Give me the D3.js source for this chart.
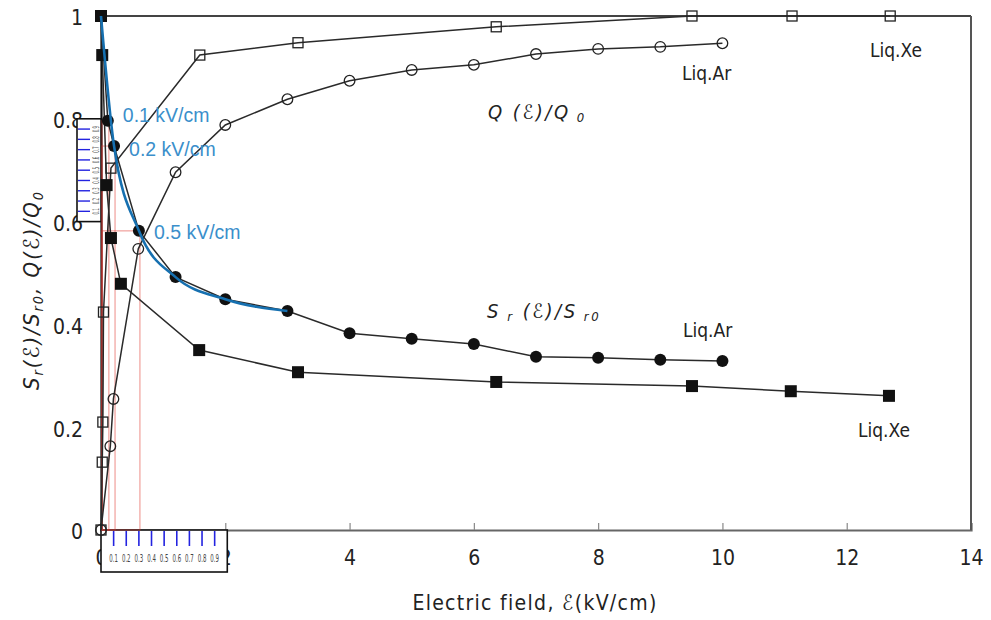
<!DOCTYPE html>
<html><head><meta charset="utf-8">
<script src="https://cdn.jsdelivr.net/npm/d3@7"></script>
<style>
body{margin:0;background:#fff;}
svg{display:block;}
</style></head>
<body>
<svg id="c" width="991" height="620"></svg>
<script>
// ---- data ----
const xTicks = [0, 2, 4, 6, 8, 10, 12, 14];
const yTicks = [0, 0.2, 0.4, 0.6, 0.8, 1];
const yTickLabels = ["0", "0.2", "0.4", "0.6", "0.8", "1"];
const insetTicks = [0.1, 0.2, 0.3, 0.4, 0.5, 0.6, 0.7, 0.8, 0.9];
const insetLabels = ["0.1", "0.2", "0.3", "0.4", "0.5", "0.6", "0.7", "0.8", "0.9"];

// Liq.Xe scintillation S_r/S_r0 (filled squares)
const xeSrX = [0, 0.02, 0.09, 0.16, 0.32, 1.58, 3.17, 6.36, 9.51, 11.1, 12.68];
const xeSrY = [1.0, 0.924, 0.671, 0.568, 0.479, 0.350, 0.307, 0.288, 0.280, 0.270, 0.261];
// Liq.Ar scintillation S_r/S_r0 (filled circles)
const arSrX = [0, 0.11, 0.21, 0.61, 1.2, 2, 3, 4, 5, 6, 7, 8, 9, 10];
const arSrY = [1.0, 0.796, 0.747, 0.582, 0.492, 0.449, 0.426, 0.383, 0.372, 0.362, 0.337, 0.335, 0.331, 0.329];
// Liq.Xe charge Q/Q0 (open squares)
const xeQX = [0, 0.02, 0.03, 0.04, 0.16, 1.59, 3.17, 6.36, 9.51, 11.12, 12.7];
const xeQY = [0, 0.132, 0.21, 0.424, 0.704, 0.924, 0.948, 0.979, 1.0, 1.0, 1.0];
// Liq.Ar charge Q/Q0 (open circles)
const arQX = [0, 0.15, 0.2, 0.6, 1.2, 2, 3, 4, 5, 6, 7, 8, 9, 10];
const arQY = [0, 0.163, 0.255, 0.547, 0.696, 0.788, 0.838, 0.874, 0.895, 0.905, 0.926, 0.936, 0.940, 0.947];
// blue highlight curve
const blueX = [0, 0.21, 0.61, 1.2, 2, 3];
const blueY = [1.0, 0.747, 0.582, 0.492, 0.449, 0.426];
// annotated field points
const annX = [0.11, 0.21, 0.61];
const annY = [0.796, 0.747, 0.582];
const annText = ["0.1 kV/cm", "0.2 kV/cm", "0.5 kV/cm"];

// ---- drawing ----
const svg = d3.select("#c");
const x = d3.scaleLinear().domain([0, 14]).range([101, 971]);
const y = d3.scaleLinear().domain([0, 1]).range([530, 16]);
const narrow = "'Liberation Sans Narrow','DejaVu Sans Condensed','Liberation Sans',sans-serif";
const zip = (a, b) => a.map((v, i) => [v, b[i]]);

// axes
const xAxis = svg.append("g").attr("transform", `translate(0,${y(0)})`)
  .call(d3.axisBottom(x).tickValues(xTicks).tickSize(-7).tickPadding(20).tickFormat(d3.format("d")));
xAxis.select(".domain").attr("stroke", "#666").attr("stroke-width", 2.2);
xAxis.selectAll(".tick line").attr("stroke", "#888").attr("stroke-width", 1.2);
xAxis.selectAll(".tick text").attr("font-family", narrow).attr("font-size", 21).attr("fill", "#222");

const yAxis = svg.append("g").attr("transform", `translate(${x(0)},0)`)
  .call(d3.axisLeft(y).tickValues(yTicks).tickSize(0).tickPadding(18).tickFormat((d, i) => yTickLabels[i]));
yAxis.select(".domain").attr("stroke", "#111").attr("stroke-width", 2.2);
yAxis.selectAll(".tick text").attr("font-family", narrow).attr("font-size", 21).attr("fill", "#222").attr("dy", "0.42em");

// frame top / right
svg.append("line").attr("x1", x(0)).attr("x2", x(14)).attr("y1", y(1)).attr("y2", y(1))
  .attr("stroke", "#444").attr("stroke-width", 2.2);
svg.append("line").attr("x1", x(14)).attr("x2", x(14)).attr("y1", y(1)).attr("y2", y(0))
  .attr("stroke", "#555").attr("stroke-width", 2);

// bottom inset (0..1 kV/cm magnified over 0..2)
const xIn = d3.scaleLinear().domain([0, 1]).range([x(0), x(2) + 2]);
const gB = svg.append("g");
gB.append("rect").attr("x", xIn(0)).attr("y", y(0)).attr("width", xIn(1) - xIn(0)).attr("height", 42)
  .attr("fill", "#fff").attr("stroke", "#111").attr("stroke-width", 1.6);
gB.selectAll("line.t").data(insetTicks).join("line")
  .attr("x1", d => xIn(d)).attr("x2", d => xIn(d)).attr("y1", y(0) + 1).attr("y2", y(0) + 16)
  .attr("stroke", "#2323e0").attr("stroke-width", 1.6);
gB.selectAll("text").data(insetTicks).join("text")
  .attr("transform", d => `translate(${xIn(d)},${y(0) + 32}) scale(0.55,1)`).attr("text-anchor", "middle")
  .attr("font-family", narrow).attr("font-size", 11).attr("fill", "#444")
  .text((d, i) => insetLabels[i]);

// left inset (0.6..0.8 magnified)
const yIn = d3.scaleLinear().domain([0, 1]).range([y(0.6), y(0.8)]);
const gL = svg.append("g");
gL.append("rect").attr("x", 77).attr("y", yIn(1)).attr("width", x(0) - 77).attr("height", yIn(0) - yIn(1))
  .attr("fill", "#fff").attr("stroke", "#111").attr("stroke-width", 1.6);
gL.selectAll("line.t").data(insetTicks).join("line")
  .attr("x1", 78).attr("x2", 90).attr("y1", d => yIn(d)).attr("y2", d => yIn(d))
  .attr("stroke", "#2323e0").attr("stroke-width", 1.4);
gL.selectAll("text").data(insetTicks).join("text")
  .attr("transform", d => `translate(${96},${yIn(d)}) rotate(-90) scale(0.5,1)`).attr("text-anchor", "middle")
  .attr("dy", "0.35em").attr("font-family", narrow).attr("font-size", 9).attr("fill", "#555")
  .text((d, i) => insetLabels[i]);

// red projection rectangles
svg.selectAll("rect.red").data(annX).join("rect").attr("class", "red")
  .attr("x", x(0) + 1).attr("y", (d, i) => y(annY[i])).attr("width", d => x(d) - x(0))
  .attr("height", (d, i) => y(0) - y(annY[i]))
  .attr("fill", "none").attr("stroke", "rgba(225,60,50,0.45)").attr("stroke-width", 1.3);

// series lines
const line = d3.line().x(d => x(d[0])).y(d => y(d[1]));
const series = [
  { pts: zip(xeSrX, xeSrY), mark: "fsq" },
  { pts: zip(arSrX, arSrY), mark: "fci" },
  { pts: zip(xeQX, xeQY), mark: "osq" },
  { pts: zip(arQX, arQY), mark: "oci" }
];
series.forEach(s => {
  svg.append("path").attr("d", line(s.pts)).attr("fill", "none")
    .attr("stroke", "#2a2a2a").attr("stroke-width", 1.5);
});
series.forEach(s => {
  const g = svg.append("g");
  if (s.mark === "fsq") {
    g.selectAll("rect").data(s.pts).join("rect")
      .attr("x", d => x(d[0]) - 6).attr("y", d => y(d[1]) - 6).attr("width", 12).attr("height", 12)
      .attr("fill", "#111");
  } else if (s.mark === "osq") {
    g.selectAll("rect").data(s.pts).join("rect")
      .attr("x", d => x(d[0]) - 5).attr("y", d => y(d[1]) - 5).attr("width", 10).attr("height", 10)
      .attr("fill", "#fff").attr("fill-opacity", 0).attr("stroke", "#222").attr("stroke-width", 1.3);
  } else if (s.mark === "fci") {
    g.selectAll("circle").data(s.pts).join("circle")
      .attr("cx", d => x(d[0])).attr("cy", d => y(d[1])).attr("r", 6).attr("fill", "#111");
  } else {
    g.selectAll("circle").data(s.pts).join("circle")
      .attr("cx", d => x(d[0])).attr("cy", d => y(d[1])).attr("r", 5.3)
      .attr("fill", "none").attr("stroke", "#222").attr("stroke-width", 1.3);
  }
});

// blue curve
svg.append("path").attr("d", d3.line().x(d => x(d[0])).y(d => y(d[1])).curve(d3.curveMonotoneX)(zip(blueX, blueY)))
  .attr("fill", "none").attr("stroke", "#1670b0").attr("stroke-width", 2.6);

// annotation texts
const annDy = [-6, 3, 1];
svg.selectAll("text.ann").data(annX).join("text").attr("class", "ann")
  .attr("x", d => x(d) + 15).attr("y", (d, i) => y(annY[i]) + annDy[i])
  .attr("dy", "0.36em").attr("font-family", "'Liberation Sans',Arial,sans-serif")
  .attr("font-size", 19.5).attr("fill", "#3b8fcb").text((d, i) => annText[i]);

// series labels
const lab = (tx, ty, t) => svg.append("text").attr("x", tx).attr("y", ty)
  .attr("font-family", narrow).attr("font-size", 19).attr("fill", "#222").text(t);
lab(870, 57, "Liq.Xe");
lab(682, 80, "Liq.Ar");
lab(683, 337, "Liq.Ar");
lab(858, 437, "Liq.Xe");

// Q/Q0 and Sr/Sr0 labels
function mathLabel(g, parts, size) {
  parts.forEach(p => {
    const t = g.append("tspan").text(p[0]);
    if (p[1] === "sub") t.attr("font-size", size * 0.65).attr("baseline-shift", "-25%");
  });
}
const qLab = svg.append("text").attr("x", 488).attr("y", 119).attr("font-family", narrow)
  .attr("font-style", "italic").attr("font-size", 20).attr("fill", "#222").attr("letter-spacing", 2.5);
mathLabel(qLab, [["Q (ℰ)/Q"], [" 0", "sub"]], 20);
const sLab = svg.append("text").attr("x", 487).attr("y", 318).attr("font-family", narrow)
  .attr("font-style", "italic").attr("font-size", 20).attr("fill", "#222").attr("letter-spacing", 2.5);
mathLabel(sLab, [["S"], [" r", "sub"], [" (ℰ)/S"], [" r0", "sub"]], 20);

// axis titles
svg.append("text").attr("x", x(7) - 1).attr("y", 610).attr("text-anchor", "middle")
  .attr("font-family", narrow).attr("font-size", 21).attr("fill", "#222").attr("letter-spacing", 1.3)
  .text("Electric field, ℰ(kV/cm)");
const yt = svg.append("text").attr("transform", "translate(39,290) rotate(-90)").attr("text-anchor", "middle")
  .attr("font-family", narrow).attr("font-style", "italic").attr("font-size", 22).attr("fill", "#222")
  .attr("letter-spacing", 2);
mathLabel(yt, [["S"], ["r", "sub"], ["(ℰ)/S"], ["r0", "sub"], [",  Q(ℰ)/Q"], ["0", "sub"]], 22);
</script>
</body></html>
